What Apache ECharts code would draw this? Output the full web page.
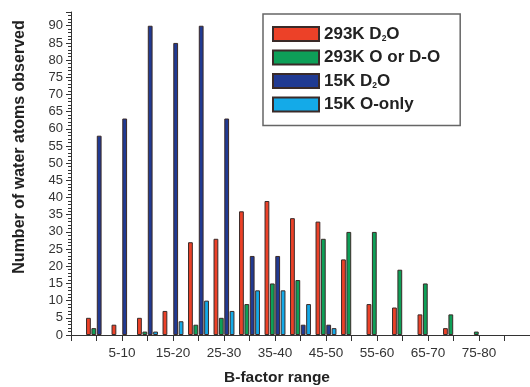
<!DOCTYPE html>
<html>
<head>
<meta charset="utf-8">
<script src="https://cdn.jsdelivr.net/npm/echarts@6/dist/echarts.min.js"></script>
<style>
html,body{margin:0;padding:0;background:#fff;}
#chart{width:530px;height:387px;}
</style>
</head>
<body>
<div id="chart"></div>
<script>
const categories = ["0-5","5-10","10-15","15-20","20-25","25-30","30-35","35-40","40-45","45-50","50-55","55-60","60-65","65-70","70-75","75-80","80-85"];
const seriesNames = ["293K D2O","293K O or D-O","15K D2O","15K O-only"];
const red293 =   [5,3,5,7,27,28,36,39,34,33,22,9,8,6,2,0,0];
const green293 = [2,0,1,0,3,5,9,15,16,28,30,30,19,15,6,1,0];
const blue15 =   [58,63,90,85,90,63,23,23,3,3,0,0,0,0,0,0,0];
const cyan15 =   [0,0,1,4,10,7,13,13,9,2,0,0,0,0,0,0,0];
const yTicks = [0,5,10,15,20,25,30,35,40,45,50,55,60,65,70,75,80,85,90];

const colors = ['#ec4128','#0e9f58','#213a92','#14aae8'];
const axisCats = [''].concat(categories).concat(['']);
function pad(arr){ return [null].concat(arr.map(v => v === 0 ? null : v)).concat([null]); }
const allData = [red293, green293, blue15, cyan15];

const chart = echarts.init(document.getElementById('chart'), null, {renderer:'canvas'});
const FONT = 'Liberation Sans, Arial, Helvetica, sans-serif';
chart.setOption({
  animation: false,
  backgroundColor: '#fff',
  grid: {left: 71, top: 12, bottom: 52, right: -8, containLabel: false},
  legend: {
    orient: 'vertical',
    left: 263, top: 14,
    padding: [11, 20, 12, 9],
    itemGap: 5.5,
    itemWidth: 46, itemHeight: 14,
    borderColor: '#666', borderWidth: 1.5,
    icon: 'rect',
    formatter: function(n){ return n.replace('D2O','D{s|2}O'); },
    textStyle: {fontFamily: FONT, fontSize: 17, fontWeight: 'bold', color: '#222', lineHeight: 18,
      rich: {s: {fontFamily: FONT, fontSize: 8.5, fontWeight: 'bold', color: '#222', lineHeight: 2, padding: [-8,0,0,0], verticalAlign: 'bottom'}}},
    data: seriesNames
  },
  xAxis: {
    type: 'category',
    data: axisCats,
    boundaryGap: false,
    axisLine: {lineStyle: {color: '#333', width: 1}},
    axisTick: {interval: 0, length: 6, lineStyle: {color: '#333'}},
    axisLabel: {
      interval: function(i){ return i % 2 === 0 && i >= 2 && i <= 16; },
      margin: 11, fontFamily: FONT, fontSize: 13.5, color: '#333'
    },
    splitLine: {show: false}
  },
  yAxis: {
    type: 'value',
    min: 0, max: 94, interval: 5,
    axisLine: {show: true, lineStyle: {color: '#333', width: 1}},
    axisTick: {show: true, length: 5, lineStyle: {color: '#333'}},
    minorTick: {show: true, splitNumber: 5, length: 3, lineStyle: {color: '#333'}},
    axisLabel: {
      margin: 8, fontFamily: FONT, fontSize: 13, color: '#333',
      formatter: function(v){ return yTicks.indexOf(v) >= 0 ? String(v) : ''; }
    },
    splitLine: {show: false}
  },
  graphic: [
    {type: 'text', x: 20, y: 147, rotation: Math.PI/2,
     style: {text: 'Number of water atoms observed', font: 'bold 16px ' + FONT, fill: '#222', textAlign: 'center', textVerticalAlign: 'middle'}},
    {type: 'text', x: 277, y: 378,
     style: {text: 'B-factor range', font: 'bold 15.5px ' + FONT, fill: '#222', textAlign: 'center', textVerticalAlign: 'middle'}}
  ],
  series: seriesNames.map((n, i) => ({
    name: n,
    type: 'bar',
    data: pad(allData[i]),
    barWidth: 4.8,
    barGap: '12%',
    itemStyle: {color: colors[i], borderColor: '#3a2a28', borderWidth: 1}
  }))
});
</script>
</body>
</html>
